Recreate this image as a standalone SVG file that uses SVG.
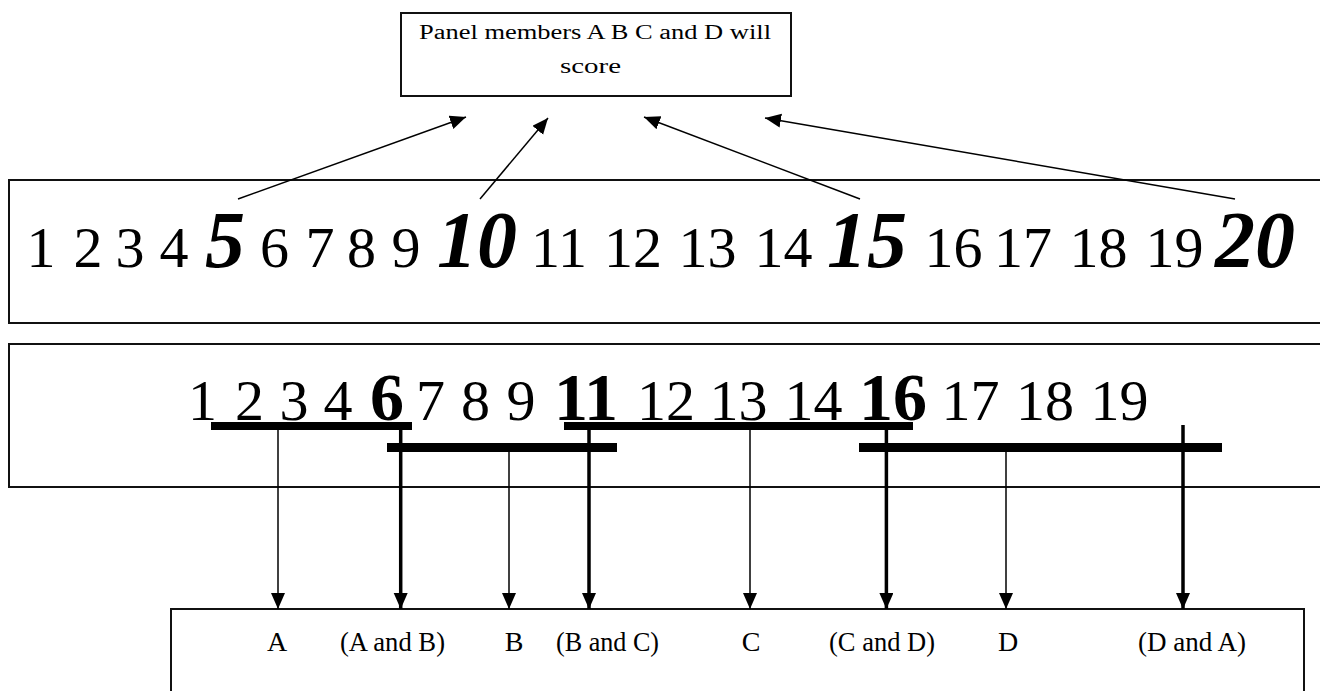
<svg xmlns="http://www.w3.org/2000/svg" width="1320" height="691" viewBox="0 0 1320 691">
<style>
.box{fill:#fff;stroke:#111;stroke-width:2}
.t{font-family:"Liberation Serif","Times New Roman",serif;fill:#000}
.reg{font-size:58px}
.bi{font-size:80px;font-weight:bold;font-style:italic}
.b{font-size:68px;font-weight:bold}
.lab{font-size:28px}
.thin{stroke:#000;stroke-width:1.5;fill:none}
.thick{stroke:#000;stroke-width:3.5;fill:none}
.bar{fill:#000}
</style>
<defs>
<marker id="ah" markerUnits="userSpaceOnUse" markerWidth="18" markerHeight="16" refX="16" refY="7" orient="auto">
<path d="M0,0 L16,7 L0,14 Z" fill="#000"/>
</marker>
</defs>
<rect width="1320" height="691" fill="#fff"/>

<g id="top-box">
<rect class="box" x="401" y="13" width="390" height="83"/>
<text class="t" x="419" y="39" font-size="20" textLength="352" lengthAdjust="spacingAndGlyphs">Panel members A B C and D will</text>
<text class="t" x="560" y="73" font-size="20" textLength="61" lengthAdjust="spacingAndGlyphs">score</text>
</g>

<g id="row1">
<rect class="box" x="9" y="180" width="1320" height="143"/>
<text class="t" y="267" text-anchor="middle">
<tspan class="reg" x="41">1</tspan><tspan class="reg" x="88">2</tspan><tspan class="reg" x="130">3</tspan><tspan class="reg" x="174">4</tspan><tspan class="bi" x="225">5</tspan><tspan class="reg" x="274.5">6</tspan><tspan class="reg" x="320">7</tspan><tspan class="reg" x="361.5">8</tspan><tspan class="reg" x="406">9</tspan><tspan class="bi" x="477">10</tspan><tspan class="reg" x="559">11</tspan><tspan class="reg" x="633">12</tspan><tspan class="reg" x="707.5">13</tspan><tspan class="reg" x="783.5">14</tspan><tspan class="bi" x="867">15</tspan><tspan class="reg" x="953.5">16</tspan><tspan class="reg" x="1023">17</tspan><tspan class="reg" x="1098.5">18</tspan><tspan class="reg" x="1174.5">19</tspan><tspan class="bi" x="1255">20</tspan>
</text>
</g>

<g id="row2">
<rect class="box" x="9" y="344" width="1320" height="143"/>
<text class="t" y="420" text-anchor="middle">
<tspan class="reg" x="202.5">1</tspan><tspan class="reg" x="249.5">2</tspan><tspan class="reg" x="294">3</tspan><tspan class="reg" x="338">4</tspan><tspan class="b" x="387">6</tspan><tspan class="reg" x="430.5">7</tspan><tspan class="reg" x="475.5">8</tspan><tspan class="reg" x="521">9</tspan><tspan class="b" x="586">11</tspan><tspan class="reg" x="666">12</tspan><tspan class="reg" x="738.5">13</tspan><tspan class="reg" x="813.5">14</tspan><tspan class="b" x="893">16</tspan><tspan class="reg" x="970.5">17</tspan><tspan class="reg" x="1045">18</tspan><tspan class="reg" x="1119.5">19</tspan>
</text>
<rect class="bar" x="211" y="422" width="201" height="8"/>
<rect class="bar" x="387" y="443" width="230" height="9"/>
<rect class="bar" x="564" y="422" width="349" height="8"/>
<rect class="bar" x="859" y="443" width="363" height="9"/>
</g>

<g id="bottom-box">
<rect class="box" x="171" y="609" width="1133" height="100"/>
<text class="t lab" x="277" y="651" text-anchor="middle">A</text>
<text class="t lab" x="340" y="651" textLength="105" lengthAdjust="spacingAndGlyphs">(A and B)</text>
<text class="t lab" x="514" y="651" text-anchor="middle">B</text>
<text class="t lab" x="556" y="651" textLength="103" lengthAdjust="spacingAndGlyphs">(B and C)</text>
<text class="t lab" x="751" y="651" text-anchor="middle">C</text>
<text class="t lab" x="829" y="651" textLength="106" lengthAdjust="spacingAndGlyphs">(C and D)</text>
<text class="t lab" x="1008" y="651" text-anchor="middle">D</text>
<text class="t lab" x="1138" y="651" textLength="108" lengthAdjust="spacingAndGlyphs">(D and A)</text>
</g>

<g id="connectors">
<line class="thin" x1="238" y1="199" x2="466" y2="117" marker-end="url(#ah)"/>
<line class="thin" x1="480" y1="199" x2="548" y2="118" marker-end="url(#ah)"/>
<line class="thin" x1="860" y1="199" x2="644" y2="117" marker-end="url(#ah)"/>
<line class="thin" x1="1235" y1="199" x2="765" y2="118" marker-end="url(#ah)"/>
<line class="thin" x1="278" y1="430" x2="278" y2="609" marker-end="url(#ah)"/>
<line class="thick" x1="400.7" y1="422" x2="400.7" y2="609" marker-end="url(#ah)"/>
<line class="thin" x1="509" y1="452" x2="509" y2="609" marker-end="url(#ah)"/>
<line class="thick" x1="589" y1="422" x2="589" y2="609" marker-end="url(#ah)"/>
<line class="thin" x1="750" y1="430" x2="750" y2="609" marker-end="url(#ah)"/>
<line class="thick" x1="886.4" y1="422" x2="886.4" y2="609" marker-end="url(#ah)"/>
<line class="thin" x1="1006" y1="452" x2="1006" y2="609" marker-end="url(#ah)"/>
<line class="thick" x1="1183" y1="425" x2="1183" y2="609" marker-end="url(#ah)"/>
</g>
</svg>
